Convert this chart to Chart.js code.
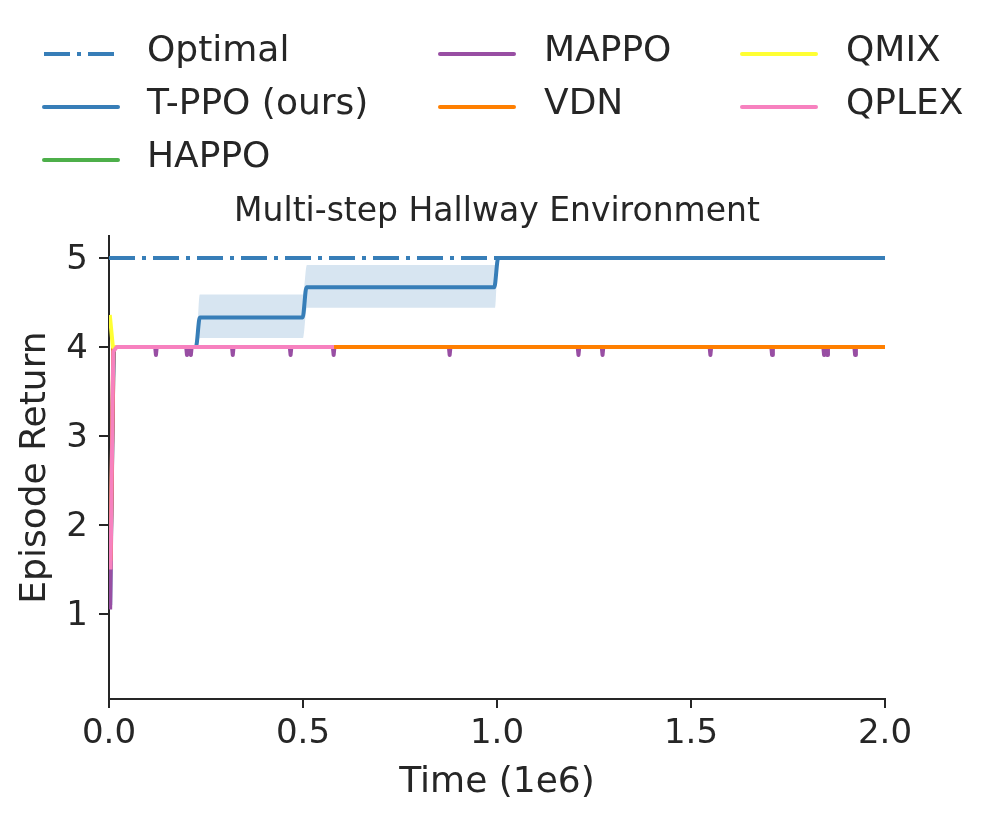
<!DOCTYPE html>
<html lang="en">
<head>
  <meta charset="UTF-8">
  <title>Multi-step Hallway Environment</title>
  <script src="https://cdn.jsdelivr.net/npm/chart.js@4.4.0/dist/chart.umd.min.js"></script>
  <style>
    * { box-sizing: border-box; margin: 0; padding: 0; }
    body { background: #fff; font-family: 'DejaVu Sans', sans-serif; color: #262626; }
    .wrap { position: relative; width: 997px; height: 820px; }
    .wrap canvas { position: absolute; left: 0; top: 0; }
    .title { position: absolute; left: 109px; width: 776px; top: 209px; transform: translateY(-50%); text-align: center; font-size: 33px; line-height: 1; }
    .leg-line { position: absolute; }
    .leg-text { position: absolute; font-size: 36px; line-height: 1; transform: translateY(-50%); white-space: nowrap; }
  </style>
</head>
<body>
  <div class="wrap" id="wrap">
    <canvas id="chart"></canvas>
    <div class="title">Multi-step Hallway Environment</div>
  </div>

  <script>
    // values (x in units of 1e6 steps)
    const xTicks = [0, 0.5, 1.0, 1.5, 2.0];
    const xTickLabels = ['0.0', '0.5', '1.0', '1.5', '2.0'];
    const yTicks = [1, 2, 3, 4, 5];
    const yTickLabels = ['1', '2', '3', '4', '5'];

    const optimalX = [0, 2.0];
    const optimalY = [5, 5];

    const tppoX = [0.003, 0.008, 0.013, 0.224, 0.234, 0.499, 0.509, 0.993, 1.003, 2.0];
    const tppoY = [1.1, 3.0, 4.0, 4.0, 4.33, 4.33, 4.67, 4.67, 5.0, 5.0];

    const bandX = [0.013, 0.224, 0.234, 0.500, 0.510, 0.995, 1.003, 2.0];
    const bandLow = [4.0, 4.0, 4.1, 4.1, 4.44, 4.44, 5.0, 5.0];
    const bandHigh = [4.0, 4.0, 4.59, 4.59, 4.92, 4.92, 5.0, 5.0];

    const happoX = [0.004, 0.012, 2.0];
    const happoY = [1.5, 4.0, 4.0];

    const mappoX = [0.003, 0.012,
      0.119, 0.121, 0.123,
      0.199, 0.201, 0.206, 0.211, 0.213,
      0.317, 0.319, 0.321,
      0.466, 0.468, 0.470,
      0.577, 0.579, 0.581,
      0.876, 0.878, 0.880,
      1.208, 1.210, 1.212,
      1.270, 1.272, 1.274,
      1.548, 1.550, 1.552,
      1.707, 1.709, 1.711,
      1.841, 1.843, 1.847, 1.851, 1.853,
      1.921, 1.923, 1.925,
      2.0];
    const mappoY = [1.05, 4.0,
      4.0, 3.91, 4.0,
      4.0, 3.91, 3.96, 3.91, 4.0,
      4.0, 3.91, 4.0,
      4.0, 3.91, 4.0,
      4.0, 3.91, 4.0,
      4.0, 3.91, 4.0,
      4.0, 3.91, 4.0,
      4.0, 3.91, 4.0,
      4.0, 3.91, 4.0,
      4.0, 3.91, 4.0,
      4.0, 3.91, 3.96, 3.91, 4.0,
      4.0, 3.91, 4.0,
      4.0];

    const vdnX = [0.004, 0.011, 2.0];
    const vdnY = [1.6, 4.0, 4.0];

    const qmixX = [0.002, 0.010, 0.58];
    const qmixY = [4.36, 4.0, 4.0];

    const qplexX = [0.004, 0.011, 0.02, 0.58];
    const qplexY = [1.5, 3.95, 4.0, 4.0];

    const INK = '#262626';
    const pts = (xs, ys) => xs.map((x, i) => ({ x: x, y: ys[i] }));
    const line = (label, xs, ys, color, order, extra) => Object.assign({
      label: label, data: pts(xs, ys), borderColor: color, backgroundColor: color,
      borderWidth: 4, pointRadius: 0, fill: false, tension: 0,
      borderJoinStyle: 'round', borderCapStyle: 'butt', order: order
    }, extra || {});

    const datasets = [
      line('Optimal', optimalX, optimalY, '#377eb8', 9, { borderDash: [26, 7, 4, 7] }),
      line('band low', bandX, bandLow, 'rgba(0,0,0,0)', 8, { borderWidth: 0, cubicInterpolationMode: 'monotone' }),
      line('band high', bandX, bandHigh, 'rgba(0,0,0,0)', 7, { borderWidth: 0, fill: '-1', backgroundColor: 'rgba(55,126,184,0.2)', cubicInterpolationMode: 'monotone' }),
      line('T-PPO (ours)', tppoX, tppoY, '#377eb8', 6, { cubicInterpolationMode: 'monotone' }),
      line('HAPPO', happoX, happoY, '#4daf4a', 5),
      line('MAPPO', mappoX, mappoY, '#984ea3', 4),
      line('VDN', vdnX, vdnY, '#ff7f00', 3),
      line('QMIX', qmixX, qmixY, '#ffff33', 2),
      line('QPLEX', qplexX, qplexY, '#f781bf', 1)
    ];

    Chart.defaults.font.family = "'DejaVu Sans', sans-serif";
    Chart.defaults.color = INK;

    new Chart(document.getElementById('chart'), {
      type: 'line',
      data: { datasets: datasets },
      options: {
        responsive: true,
        maintainAspectRatio: false,
        animation: false,
        layout: { padding: { top: 236, left: 0, right: 112, bottom: 16 } },
        plugins: { legend: { display: false }, tooltip: { enabled: false } },
        scales: {
          x: {
            type: 'linear', min: 0, max: 2,
            afterBuildTicks: (ax) => { ax.ticks = xTicks.map(v => ({ value: v })); },
            afterFit: (ax) => { ax.height = 105; },
            ticks: { callback: (v, i) => xTickLabels[i], font: { size: 34 }, color: INK, padding: 6, maxRotation: 0, autoSkip: false },
            grid: { drawOnChartArea: false, drawTicks: true, tickLength: 9, color: INK, lineWidth: 2 },
            border: { display: true, color: INK, width: 2 },
            title: { display: true, text: 'Time (1e6)', font: { size: 36 }, color: INK, padding: { top: 0, bottom: 0 } }
          },
          y: {
            type: 'linear', min: 0.045, max: 5.247,
            afterBuildTicks: (ax) => { ax.ticks = yTicks.map(v => ({ value: v })); },
            afterFit: (ax) => { ax.width = 109; },
            ticks: { callback: (v, i) => yTickLabels[i], font: { size: 34 }, color: INK, padding: 11, labelOffset: 2, autoSkip: false },
            grid: { drawOnChartArea: false, drawTicks: true, tickLength: 10, color: INK, lineWidth: 2 },
            border: { display: true, color: INK, width: 2 },
            title: { display: true, text: 'Episode Return', font: { size: 36 }, color: INK, padding: { top: 14, bottom: 0 } }
          }
        }
      }
    });

    // matplotlib-style legend, 3 columns filled top to bottom
    const legendOrder = ['Optimal', 'T-PPO (ours)', 'HAPPO', 'MAPPO', 'VDN', 'QMIX', 'QPLEX'];
    const colSizes = [3, 2, 2];
    const colLineX = [44, 440, 742];
    const colTextX = [147, 544, 846];
    const rowY = [49, 102, 155];
    const wrap = document.getElementById('wrap');
    let k = 0;
    colSizes.forEach((n, c) => {
      for (let r = 0; r < n; r++, k++) {
        const ds = datasets.find(d => d.label === legendOrder[k]);
        const dash = ds.borderDash ? `stroke-dasharray="${ds.borderDash.join(' ')}"` : '';
        const cap = ds.borderDash ? 'butt' : 'round';
        const svg = document.createElement('div');
        svg.className = 'leg-line';
        svg.style.left = (colLineX[c] - 2) + 'px';
        svg.style.top = (rowY[r] - 5) + 'px';
        svg.innerHTML = `<svg width="80" height="10"><line x1="2" y1="5" x2="76" y2="5" stroke="${ds.borderColor}" stroke-width="4" stroke-linecap="${cap}" ${dash}/></svg>`;
        wrap.appendChild(svg);
        const t = document.createElement('div');
        t.className = 'leg-text';
        t.style.left = colTextX[c] + 'px';
        t.style.top = rowY[r] + 'px';
        t.textContent = ds.label;
        wrap.appendChild(t);
      }
    });
  </script>
</body>
</html>
